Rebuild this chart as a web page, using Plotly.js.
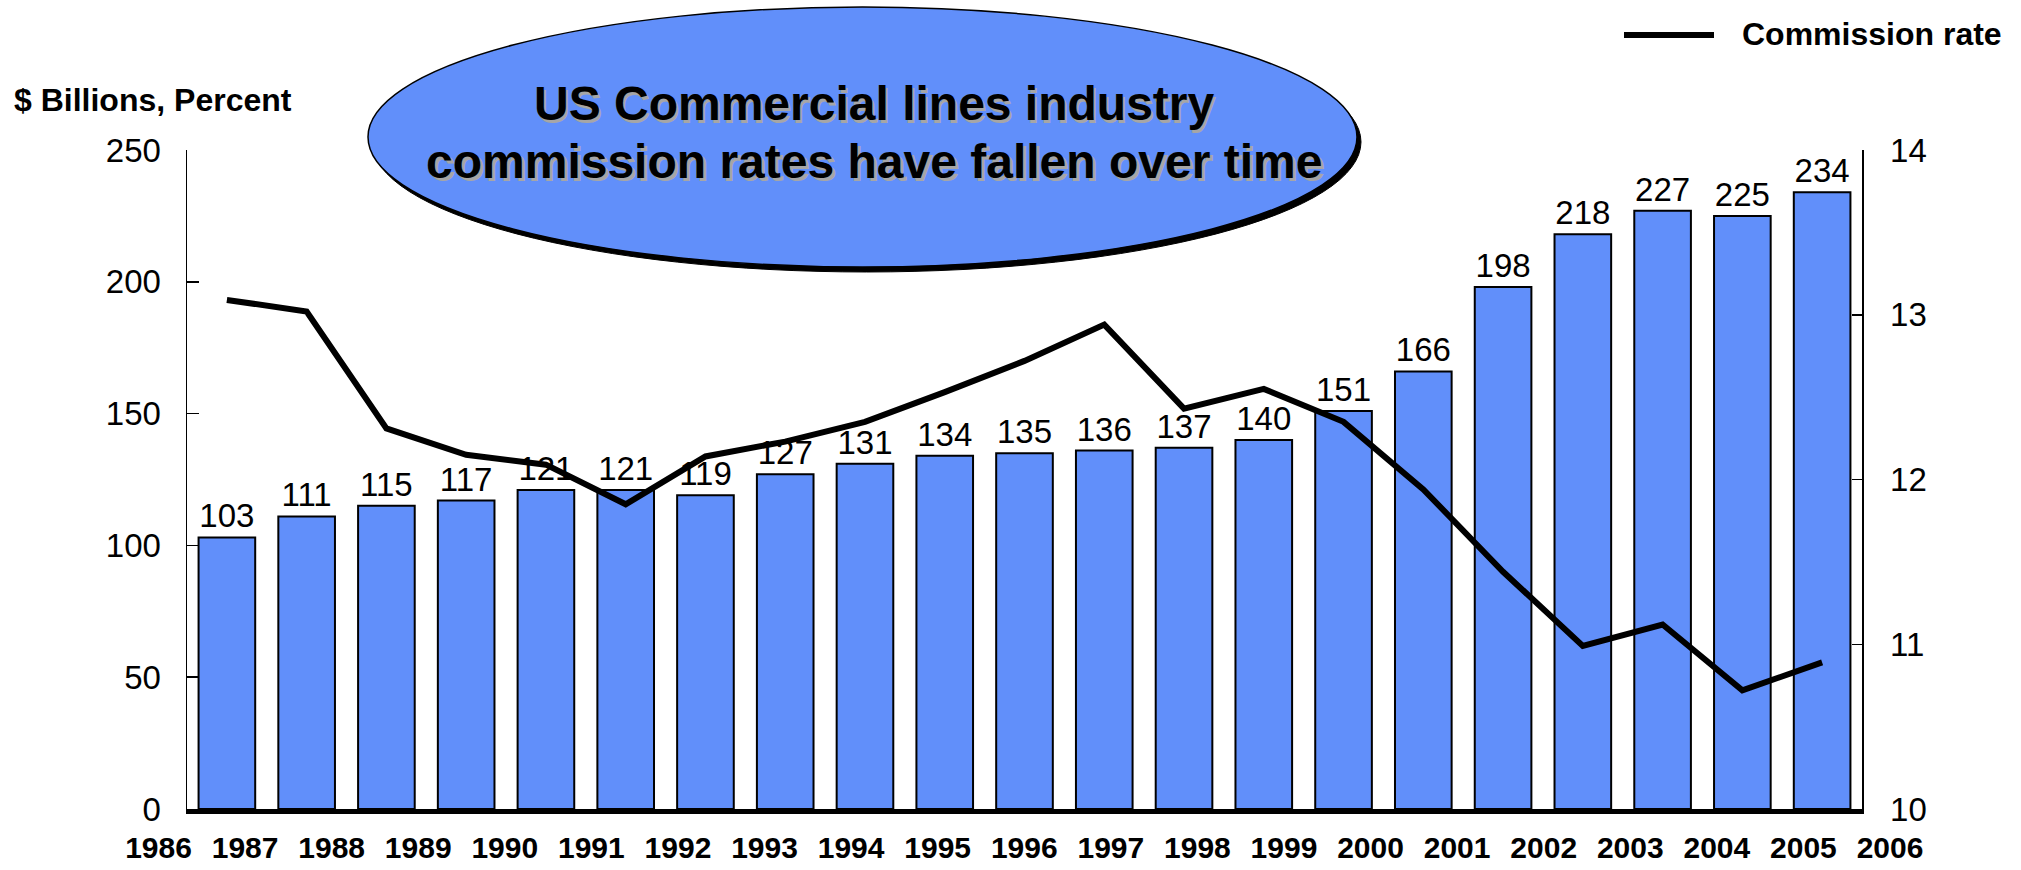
<!DOCTYPE html>
<html>
<head>
<meta charset="utf-8">
<script src="https://cdn.plot.ly/plotly-3.0.1.min.js"></script>
<style>html,body{margin:0;padding:0;background:#fff;}#chart{width:2021px;height:870px;}</style>
</head>
<body>
<div id="chart"></div>
<script>
// ---- data ----
const years = ['1986','1987','1988','1989','1990','1991','1992','1993','1994','1995','1996',
               '1997','1998','1999','2000','2001','2002','2003','2004','2005','2006'];
const premiums = [103,111,115,117,121,121,119,127,131,134,135,136,137,140,151,166,198,218,227,225,234];
const commissionRate = [13.09,13.02,12.31,12.15,12.09,11.85,12.14,12.23,12.35,12.53,12.72,
                        12.94,12.43,12.55,12.35,11.94,11.44,10.99,11.12,10.72,10.89];
const leftTicks = [0,50,100,150,200,250];
const rightTicks = [10,11,12,13,14];
const titleLines = ['US Commercial lines industry','commission rates have fallen over time'];
const yAxisLabel = '$ Billions, Percent';
const legendLabel = 'Commission rate';

// ---- style ----
const FONT = "Arial, 'Liberation Sans', sans-serif";
const BLUE = '#618FFA';
const W = 2021, H = 870;
const M = {l:140, r:111, t:150, b:61};
const PW = W - M.l - M.r, PH = H - M.t - M.b;
const px = x => (x - M.l) / PW;          // pixel -> paper x
const py = y => (H - M.b - y) / PH;      // pixel -> paper y

const yearIdx = years.map((_, i) => i);

const traces = [
  {
    type: 'bar', x: years, y: premiums, xaxis: 'x', yaxis: 'y',
    marker: {color: BLUE, line: {color: '#000', width: 2}},
    text: premiums.map(String), textposition: 'outside', constraintext: 'none',
    textfont: {family: FONT, size: 33, color: '#000'},
    cliponaxis: false, showlegend: false, hoverinfo: 'x+y'
  },
  {
    type: 'scatter', mode: 'lines', x: years, y: commissionRate, xaxis: 'x', yaxis: 'y2',
    line: {color: '#000', width: 6}, name: legendLabel, showlegend: false
  },
  {
    // carrier for the year label axis
    type: 'scatter', mode: 'markers', x: yearIdx, y: yearIdx.map(() => null),
    xaxis: 'x2', yaxis: 'y', showlegend: false, hoverinfo: 'skip'
  }
];

const pitch = 86.575, firstLabel = 158.5;
const layout = {
  width: W, height: H, margin: M,
  paper_bgcolor: '#fff', plot_bgcolor: 'rgba(0,0,0,0)',
  font: {family: FONT, color: '#000'},
  bargap: 0.29,
  xaxis: {
    type: 'category', domain: [px(187), px(1862)], anchor: 'y',
    showticklabels: false, ticks: '', showgrid: false, zeroline: false,
    showline: true, linecolor: '#000', linewidth: 5, fixedrange: true
  },
  xaxis2: {
    domain: [0, 1], anchor: 'y',
    range: [(M.l - firstLabel) / pitch, (W - M.r - firstLabel) / pitch],
    tickmode: 'array', tickvals: yearIdx, ticktext: years,
    tickfont: {family: FONT, size: 30, weight: 'bold', color: '#000'},
    ticks: '', showline: false, showgrid: false, zeroline: false,
    ticklabelstandoff: 18
  },
  yaxis: {
    domain: [0, 1], anchor: 'x', range: [0, 250],
    tickmode: 'array', tickvals: leftTicks,
    ticks: 'inside', ticklen: 12, tickcolor: '#000', tickwidth: 1.5,
    showline: true, linecolor: '#000', linewidth: 1.5,
    showgrid: false, zeroline: false,
    tickfont: {family: FONT, size: 33, color: '#000'},
    ticklabelstandoff: 18
  },
  yaxis2: {
    overlaying: 'y', side: 'right', anchor: 'x', range: [10, 14],
    tickmode: 'array', tickvals: rightTicks,
    ticks: 'inside', ticklen: 10, tickcolor: '#000', tickwidth: 1.5,
    showline: true, linecolor: '#000', linewidth: 1.5,
    showgrid: false, zeroline: false,
    tickfont: {family: FONT, size: 33, color: '#000'},
    ticklabelstandoff: 20
  },
  shapes: [
    // ellipse shadow
    {type: 'circle', xref: 'paper', yref: 'paper', layer: 'above',
     x0: px(372), x1: px(1361), y0: py(272), y1: py(12),
     fillcolor: '#000', line: {color: '#000', width: 1}},
    // ellipse
    {type: 'circle', xref: 'paper', yref: 'paper', layer: 'above',
     x0: px(368), x1: px(1357), y0: py(267), y1: py(7),
     fillcolor: BLUE, line: {color: '#000', width: 1.5}},
    // legend sample line
    {type: 'line', xref: 'paper', yref: 'paper',
     x0: px(1624), x1: px(1714), y0: py(35), y1: py(35),
     line: {color: '#000', width: 6}}
  ],
  annotations: [
    // title shadow
    {xref: 'paper', yref: 'paper', x: px(876.5), y: py(106.2), xanchor: 'center', yanchor: 'middle',
     text: titleLines[0], showarrow: false, font: {family: FONT, size: 48, weight: 'bold', color: '#A6A6A6'}},
    {xref: 'paper', yref: 'paper', x: px(876.5), y: py(164.2), xanchor: 'center', yanchor: 'middle',
     text: titleLines[1], showarrow: false, font: {family: FONT, size: 48, weight: 'bold', color: '#A6A6A6'}},
    // title
    {xref: 'paper', yref: 'paper', x: px(874), y: py(103.7), xanchor: 'center', yanchor: 'middle',
     text: titleLines[0], showarrow: false, font: {family: FONT, size: 48, weight: 'bold', color: '#000'}},
    {xref: 'paper', yref: 'paper', x: px(874), y: py(161.7), xanchor: 'center', yanchor: 'middle',
     text: titleLines[1], showarrow: false, font: {family: FONT, size: 48, weight: 'bold', color: '#000'}},
    // y axis label
    {xref: 'paper', yref: 'paper', x: px(12), y: py(100), xanchor: 'left', yanchor: 'middle',
     text: yAxisLabel, showarrow: false, font: {family: FONT, size: 32, weight: 'bold', color: '#000'}},
    // legend label
    {xref: 'paper', yref: 'paper', x: px(1740), y: py(34), xanchor: 'left', yanchor: 'middle',
     text: legendLabel, showarrow: false, font: {family: FONT, size: 32, weight: 'bold', color: '#000'}}
  ]
};

Plotly.newPlot('chart', traces, layout, {displayModeBar: false, staticPlot: true});
</script>
</body>
</html>
